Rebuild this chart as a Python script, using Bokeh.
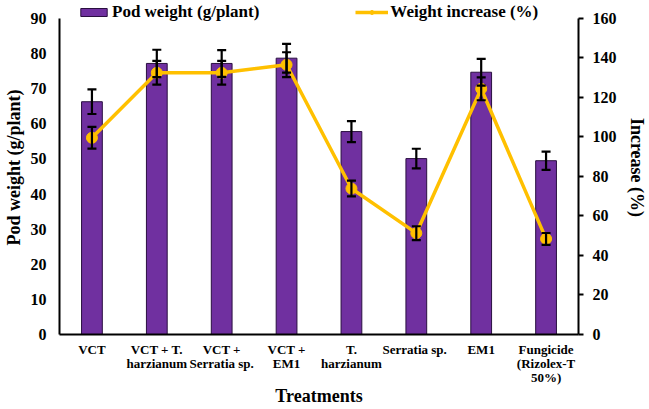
from bokeh.plotting import figure
from bokeh.models import (FactorRange, Range1d, LinearAxis, Whisker, ColumnDataSource,
                          Legend, LegendItem, FixedTicker, TeeHead)
from bokeh.embed import file_html
from bokeh.resources import INLINE

treatments = ["VCT", "VCT + T.\nharzianum", "VCT +\nSerratia sp.", "VCT +\nEM1",
              "T.\nharzianum", "Serratia  sp.", "EM1", "Fungicide\n(Rizolex-T\n50%)"]
pod_weight = [66.3, 77.2, 77.2, 78.7, 57.8, 50.1, 74.7, 49.5]
pod_err = [3.5, 3.9, 3.8, 4.1, 3.0, 2.8, 3.8, 2.6]
increase = [99.6, 132.5, 132.5, 136.6, 73.9, 51.3, 124.4, 48.4]
inc_err = [5.5, 6.0, 6.0, 6.3, 4.0, 3.5, 5.8, 3.0]

FONT = "Liberation Serif"
PURPLE = "#7030A0"
GOLD = "#FFC000"

src = ColumnDataSource(dict(
    x=treatments, pw=pod_weight,
    pw_lo=[v - e for v, e in zip(pod_weight, pod_err)],
    pw_hi=[v + e for v, e in zip(pod_weight, pod_err)],
    inc=increase,
    inc_lo=[v - e for v, e in zip(increase, inc_err)],
    inc_hi=[v + e for v, e in zip(increase, inc_err)],
))

p = figure(width=649, height=409, x_range=FactorRange(*treatments, range_padding=0),
           y_range=Range1d(0, 95.13), output_backend="svg", toolbar_location=None,
           min_border_left=55, min_border_right=65, min_border_top=0, min_border_bottom=75)
p.extra_y_ranges = {"inc": Range1d(0, 169.11)}
p.x_range.factor_padding = 0
p.outline_line_color = None
p.xgrid.grid_line_color = None
p.ygrid.grid_line_color = None
p.background_fill_color = "white"

bars = p.vbar(x="x", top="pw", width=0.32, source=src, fill_color=PURPLE,
              line_color="#2a0f40", line_width=1)

w1 = Whisker(base="x", lower="pw_lo", upper="pw_hi", source=src, level="glyph",
             line_color="black", line_width=2.2,
             upper_head=TeeHead(size=9, line_width=2.2, line_color="black"),
             lower_head=TeeHead(size=9, line_width=2.2, line_color="black"))
p.add_layout(w1)

ln = p.line(x="x", y="inc", source=src, y_range_name="inc", line_color=GOLD, line_width=3.5)

w2 = Whisker(base="x", lower="inc_lo", upper="inc_hi", source=src, level="glyph",
             y_range_name="inc", line_color="black", line_width=2.2,
             upper_head=TeeHead(size=9, line_width=2.2, line_color="black"),
             lower_head=TeeHead(size=9, line_width=2.2, line_color="black"))
p.add_layout(w2)

mk = p.scatter(x="x", y="inc", source=src, y_range_name="inc", size=11,
               fill_color=GOLD, line_color=GOLD)

def style_axis(ax):
    ax.major_label_text_font = FONT
    ax.major_label_text_font_style = "bold"
    ax.major_label_text_color = "black"
    ax.axis_label_text_font = FONT
    ax.axis_label_text_font_style = "bold"
    ax.axis_label_text_color = "black"
    ax.axis_line_color = "black"
    ax.axis_line_width = 2
    ax.minor_tick_line_color = None

# left axis
la = p.yaxis[0]
style_axis(la)
la.ticker = FixedTicker(ticks=list(range(0, 91, 10)))
la.bounds = (0, 90)
la.major_tick_out = 0
la.major_tick_in = 0
la.major_label_text_font_size = "16px"
la.axis_label = "Pod weight (g/plant)"
la.axis_label_text_font_size = "18px"
la.major_label_standoff = 13
la.axis_label_standoff = 4

# bottom axis
xa = p.xaxis[0]
style_axis(xa)
xa.major_tick_out = 0
xa.major_tick_in = 0
xa.major_label_text_font_size = "13px"
xa.major_label_text_line_height = 0.95
xa.major_label_standoff = 7
xa.axis_label = "Treatments"
xa.axis_label_text_font_size = "18px"
xa.axis_label_standoff = -2

# right axis
ra = LinearAxis(y_range_name="inc", axis_label="Increase (%)")
style_axis(ra)
ra.ticker = FixedTicker(ticks=list(range(0, 161, 20)))
ra.bounds = (0, 160)
ra.major_tick_out = 5
ra.major_tick_in = 0
ra.major_tick_line_width = 2
ra.major_tick_line_color = "black"
ra.major_label_text_font_size = "16px"
ra.major_label_standoff = 9
ra.axis_label_text_font_size = "18px"
ra.axis_label_standoff = 7
p.add_layout(ra, "right")

legend = Legend(items=[LegendItem(label="Pod weight (g/plant)", renderers=[bars]),
                       LegendItem(label="Weight increase (%)", renderers=[ln, mk])],
                orientation="horizontal", location=(18, 312),
                label_text_font=FONT, label_text_font_style="bold",
                label_text_font_size="17px", label_text_color="black",
                label_height=18, glyph_width=33, glyph_height=10,
                spacing=96, padding=0, margin=0,
                label_standoff=2, border_line_color=None, background_fill_alpha=0)
p.add_layout(legend)

open("out.html", "w").write(file_html(p, INLINE))
